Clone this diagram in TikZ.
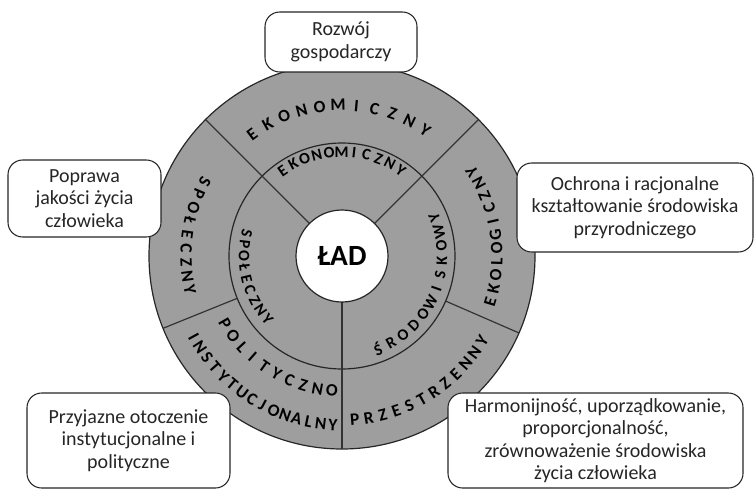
\documentclass[tikz,border=0pt]{standalone}
\usepackage{fontspec}
\setmainfont{Carlito}
\usepackage{tikz}

% letters set one by one round the centre
\newcommand{\ringword}[6]{% radius, first angle, step, turn, name, letters
  \foreach \ch [count=\i] in {#6} {
    \pgfmathsetmacro{\ang}{#2+(\i-1)*(#3)}
    \node[ringletter, rotate=\ang+#4] (#5\i) at (\ang:#1) {\ch};
  }}

\begin{document}
\begin{tikzpicture}[x=0.75pt, y=0.75pt,
  ring/.style={fill=black!38, draw=black!85, line width=0.9pt},
  divider/.style={draw=black!80, line width=0.9pt},
  ringletter/.style={font=\fontsize{13}{14}\selectfont\bfseries, text=black, inner sep=0pt},
  goalbox/.style={draw=black!85, fill=white, rounded corners=11pt, line width=0.8pt,
    align=center, text=black!85, font=\fontsize{15}{16.8}\selectfont, inner sep=0pt}]
  \useasboundingbox (-342,-233) rectangle (413,256);

  % Rings
  \draw[ring] (0,0) circle (193);
  \draw[ring] (0,0) circle (113);

  % Dividing lines
  \foreach \a in {45,135,270}
    \draw[divider] (\a:46) -- (\a:193);
  \foreach \a in {202,-23.5}
    \draw[divider] (\a:113) -- (\a:193);

  % Centre
  \node[circle, fill=white, draw=black!85, line width=0.9pt, minimum size=69pt,
    font=\fontsize{22}{24}\selectfont\bfseries] (lad) at (0,0) {ŁAD};

  % Outer ring
  \ringword{151}{126.5}{-7}{-90}{eko}{E,K,O,N,O,M,I,C,Z,N,Y}
  \ringword{156}{151.6}{5.125}{90}{spo}{S,P,O,Ł,E,C,Z,N,Y}
  \ringword{155}{-17}{5}{90}{ekl}{E,K,O,L,O,G,I,C,Z,N,Y}
  \ringword{135}{210}{6.19}{90}{pol}{P,O,L,I,T,Y,C,Z,N,O}
  \ringword{169}{208.7}{4.16}{90}{ins}{I,N,S,T,Y,T,U,C,J,O,N,A,L,N,Y}
  \ringword{164}{274.5}{4.93}{90}{prz}{P,R,Z,E,S,T,R,Z,E,N,N,Y}

  % Middle ring (slightly smaller letters)
  \tikzset{ringletter/.append style={font=\fontsize{12}{13}\selectfont\bfseries}}
  \ringword{104}{124.9}{-6.93}{-90}{ekm}{E,K,O,N,O,M,I,C,Z,N,Y}
  \ringword{98}{166.4}{6.76}{90}{spm}{S,P,O,Ł,E,C,Z,N,Y}
  \ringword{100}{-69}{8.3}{90}{sro}{Ś,R,O,D,O,W,I,S,K,O,W,Y}

  % Goals
  \node[goalbox, minimum width=114pt, minimum height=45pt] (rozwoj) at (-1,214)
    {Rozwój\\gospodarczy};
  \node[goalbox, minimum width=114.75pt, minimum height=57.75pt] (poprawa) at (-257.5,57.5)
    {Poprawa\\jakości życia\\człowieka};
  \node[goalbox, minimum width=177pt, minimum height=66.75pt] (ochrona) at (293,48.5)
    {Ochrona i racjonalne\\kształtowanie środowiska\\przyrodniczego};
  \node[goalbox, minimum width=152.25pt, minimum height=71.25pt] (otoczenie) at (-213.5,-184.5)
    {Przyjazne otoczenie\\instytucjonalne i\\polityczne};
  \node[goalbox, minimum width=221.25pt, minimum height=71.25pt] (harmonia) at (253.5,-184.5)
    {Harmonijność, uporządkowanie,\\proporcjonalność,\\zrównoważenie środowiska\\życia człowieka};
\end{tikzpicture}
\end{document}
